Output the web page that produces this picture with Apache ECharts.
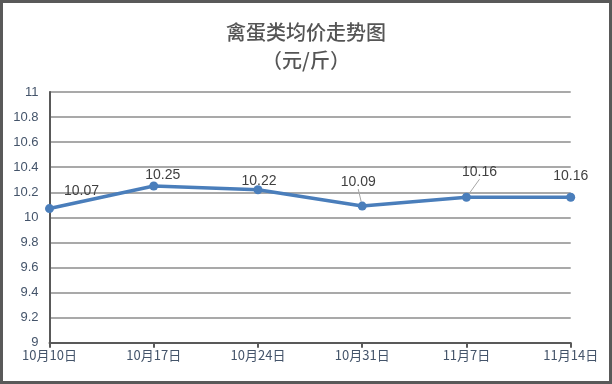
<!DOCTYPE html>
<html><head><meta charset="utf-8">
<script src="https://cdn.jsdelivr.net/npm/echarts@6/dist/echarts.min.js"></script>
<style>html,body{margin:0;padding:0;background:#fff}#c{width:612px;height:384px;box-sizing:border-box;border:3px solid #595959}</style>
</head><body><div id="c"></div>
<script>
const categories = ['10月10日','10月17日','10月24日','10月31日','11月7日','11月14日'];
const values = [10.07, 10.25, 10.22, 10.09, 10.16, 10.16];
const yTicks = [9, 9.2, 9.4, 9.6, 9.8, 10, 10.2, 10.4, 10.6, 10.8, 11];
const titleText = '禽蛋类均价走势图\n（元/斤）';

const labelShift = [[32, -5.5], [9, 1], [1, 3], [-4, -12.5], [13, -13.5], [0, -9.5]];
const showLeader = [false, false, false, true, true, false];

const chart = echarts.init(document.getElementById('c'), null, {renderer: 'canvas'});
chart.setOption({
  animation: false,
  title: {text: titleText, left: 'center', top: 10, textStyle: {fontFamily: 'Noto Sans CJK SC', fontSize: 20, fontWeight: 500, color: '#555555', lineHeight: 28}},
  grid: {left: 46.5, right: 38.3, top: 89, bottom: 38.3},
  xAxis: {type: 'category', data: categories, boundaryGap: false,
    axisLine: {lineStyle: {color: '#595959', width: 2}},
    axisTick: {show: true, alignWithLabel: true, length: 5, lineStyle: {color: '#595959', width: 2}},
    axisLabel: {color: '#44546A', fontSize: 13, fontFamily: 'Noto Sans CJK SC', margin: 6}},
  yAxis: {type: 'value', min: yTicks[0], max: yTicks[yTicks.length - 1], interval: 0.2,
    axisLine: {show: true, lineStyle: {color: '#595959', width: 2}},
    axisTick: {show: false},
    axisLabel: {color: '#44546A', fontSize: 13, fontFamily: 'Liberation Sans', margin: 11},
    splitLine: {lineStyle: {color: '#8c8c8c', width: 1.5}}},
  series: [{type: 'line',
    data: values.map((v, i) => ({value: v, labelLine: {show: showLeader[i]}})),
    symbol: 'circle', symbolSize: 9,
    itemStyle: {color: '#4a7ebb'}, lineStyle: {color: '#4a7ebb', width: 3.5},
    label: {show: true, position: 'top', distance: 0, color: '#404040', fontSize: 14, fontFamily: 'Liberation Sans'},
    labelLine: {show: true, lineStyle: {color: '#a6a6a6', width: 1}},
    labelLayout: function (p) { const s = labelShift[p.dataIndex]; return {dx: s[0], dy: s[1]}; }
  }]
});
</script></body></html>
